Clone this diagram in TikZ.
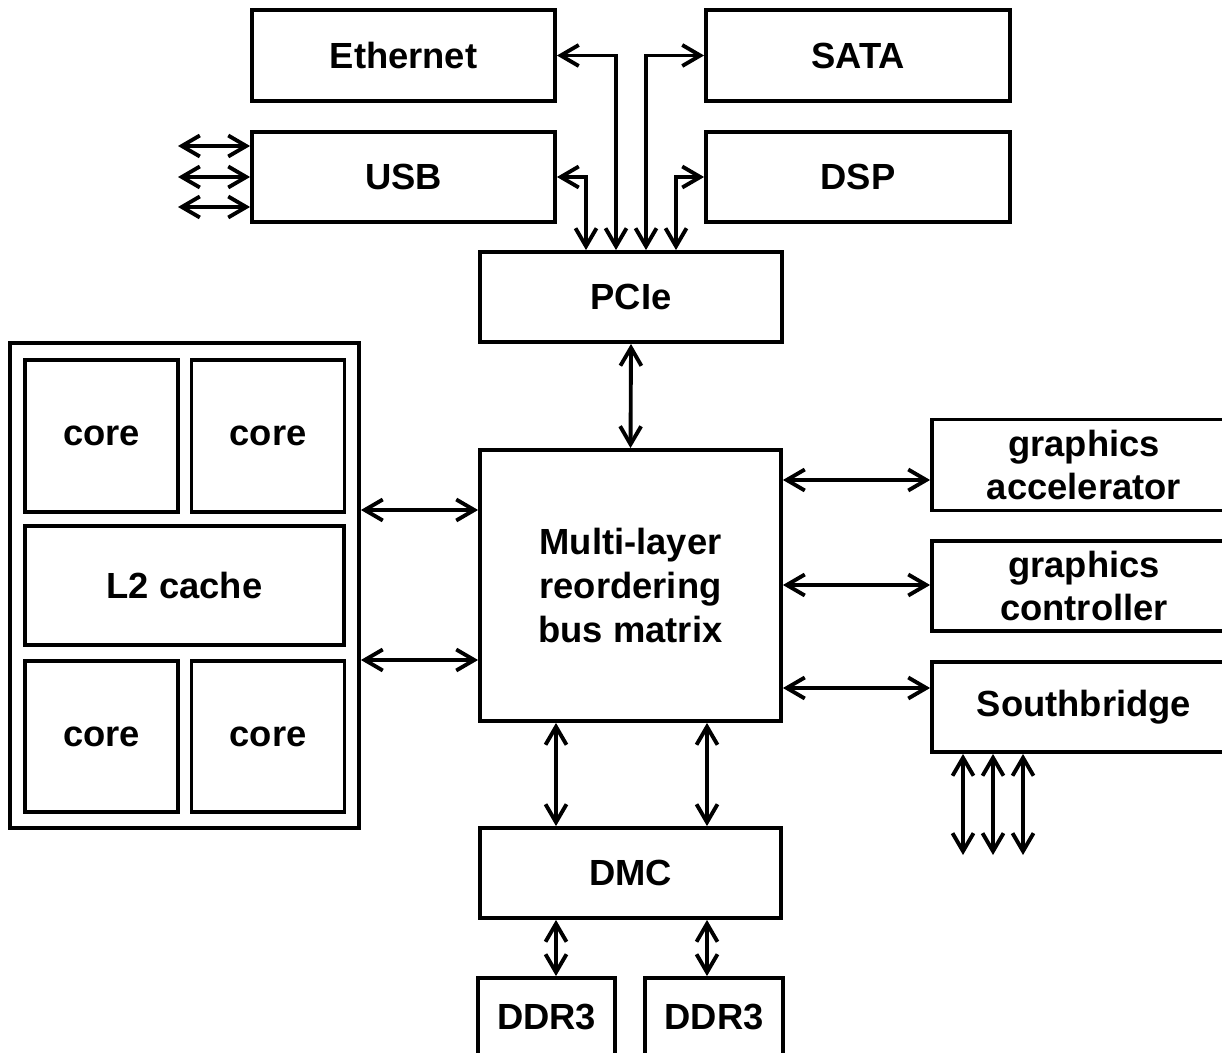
\documentclass[tikz,border=0pt]{standalone}
\usepackage{fontspec}
\setmainfont{Liberation Sans}
\usepackage{tikz}
\usetikzlibrary{arrows.meta, calc}
\tikzset{
  block/.style 2 args={rectangle, draw=black, line width=2.2pt,
                fill=white, font=\fontsize{20.7}{25}\selectfont\bfseries,
                minimum width=#1*0.02cm, minimum height=#2*0.02cm,
                inner sep=0pt, align=center},
  arr/.style={{Straight Barb[length=0.36cm, width=0.42cm]}-{Straight Barb[length=0.36cm, width=0.42cm]},
              line width=2.2pt},
}

\begin{document}
\begin{tikzpicture}[x=0.02cm, y=-0.02cm]
  \useasboundingbox (0,0) rectangle (1222,1053);
  %% PCIe devices
  \node[block={303}{91}] (eth)  at (403.5,55.5) {Ethernet};
  \node[block={303}{90}] (usb)  at (403.5,177)  {USB};
  \node[block={304}{91}] (sata) at (858,55.5)   {SATA};
  \node[block={304}{90}] (dsp)  at (858,177)    {DSP};
  \node[block={302}{90}] (pcie) at (631,297)    {PCIe};
  \draw[arr] (eth.east)  -| (pcie.north -| 616,0);
  \draw[arr] (usb.east)  -| (pcie.north -| 586,0);
  \draw[arr] (sata.west) -| (pcie.north -| 646,0);
  \draw[arr] (dsp.west)  -| (pcie.north -| 676,0);
  \foreach \y [count=\i] in {146,177,207} {
    \coordinate (usbin\i) at (178,\y);
    \draw[arr] (usbin\i) -- (usbin\i -| usb.west);
  }
  %% CPU cluster
  \node[block={349}{485}] (cpu)   at (184.5,585.5) {};
  \node[block={153}{152}] (core1) at (101.5,436)   {core};
  \node[block={153}{152}] (core2) at (268,436)     {core};
  \node[block={319}{119}] (l2)    at (184.5,585.5) {L2 cache};
  \node[block={153}{151}] (core3) at (101.5,736.5) {core};
  \node[block={153}{151}] (core4) at (268,736.5)   {core};
  %% Bus matrix and memory
  \node[block={301}{271}] (bus)  at (630.5,585.5) {Multi-layer\\reordering\\bus matrix};
  \node[block={301}{90}]  (dmc)  at (630.5,873)   {DMC};
  \node[block={137}{78}]  (ddra) at (546.5,1017)  {DDR3};
  \node[block={138}{78}]  (ddrb) at (714,1017)    {DDR3};
  \draw[arr] (pcie.south) -- (bus.north);
  \draw[arr] (cpu.east |- 0,510) -- (bus.west |- 0,510);
  \draw[arr] (cpu.east |- 0,660) -- (bus.west |- 0,660);
  \foreach \x in {556,707}
    \draw[arr] (bus.south -| \x,0) -- (dmc.north -| \x,0);
  \draw[arr] (dmc.south -| 556,0) -- (ddra.north -| 556,0);
  \draw[arr] (dmc.south -| 707,0) -- (ddrb.north -| 707,0);
  %% Peripherals
  \node[block={304}{91}] (gacc)  at (1084,465)   {graphics\\accelerator};
  \node[block={304}{90}] (gctl)  at (1084,586)   {graphics\\controller};
  \node[block={304}{90}] (south) at (1084,707)   {Southbridge};
  \draw[arr] (bus.east |- 0,480) -- (gacc.west |- 0,480);
  \draw[arr] (bus.east |- 0,585) -- (gctl.west |- 0,585);
  \draw[arr] (bus.east |- 0,688) -- (south.west |- 0,688);
  \foreach \x [count=\i] in {963,993,1023} {
    \coordinate (sbout\i) at (\x,855);
    \draw[arr] (south.south -| sbout\i) -- (sbout\i);
  }
\end{tikzpicture}
\end{document}
